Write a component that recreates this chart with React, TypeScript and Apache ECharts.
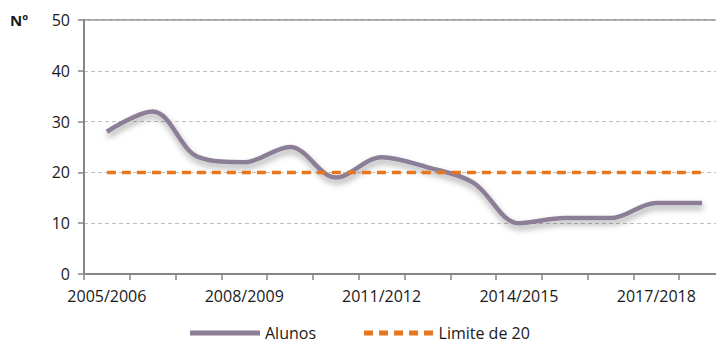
import React, { useEffect, useRef } from "react";
import * as echarts from "echarts";

const categories = [
  "2005/2006", "2006/2007", "2007/2008", "2008/2009", "2009/2010", "2010/2011", "2011/2012",
  "2012/2013", "2013/2014", "2014/2015", "2015/2016", "2016/2017", "2017/2018", "2018/2019",
];
const alunos = [28, 32, 23, 22, 25, 19, 23, 21, 18, 10, 11, 11, 14, 14];
const limite = [20, 20, 20, 20, 20, 20, 20, 20, 20, 20, 20, 20, 20, 20];
const yTicks = { min: 0, max: 50, interval: 10 };

const FONT = "'Open Sans', 'Liberation Sans', sans-serif";

const solidIcon = "path://M0,0h70v5h-70z";
const dashedIcon = "path://M0,0h9v5h-9z M15,0h9v5h-9z M30,0h9v5h-9z M45,0h9v5h-9z M60,0h9v5h-9z";

export default function App() {
  const ref = useRef<HTMLDivElement>(null);
  useEffect(() => {
    if (!ref.current) return;
    const chart = echarts.init(ref.current, undefined, { renderer: "svg" });
    chart.setOption({
      animation: false,
      backgroundColor: "#ffffff",
      textStyle: { fontFamily: FONT },
      grid: {
        left: 84,
        top: 20,
        right: -9,
        bottom: 70,
        outerBoundsMode: "none",
        containLabel: false,
        show: true,
        borderColor: "#868686",
        borderWidth: 1.5,
        backgroundColor: "transparent",
      },
      graphic: [
        {
          type: "text",
          left: 10,
          top: 12,
          style: { text: "Nº", font: `bold 15px ${FONT}`, fill: "#1a1a1a" },
        },
      ],
      legend: {
        left: 185,
        bottom: -2,
        itemWidth: 70,
        itemHeight: 5,
        itemGap: 48,
        textStyle: { fontFamily: FONT, fontSize: 16, color: "#1a1a1a" },
        data: [
          { name: "Alunos", icon: solidIcon, itemStyle: { color: "#8C7E96" } },
          { name: "Limite de 20", icon: dashedIcon, itemStyle: { color: "#E8761E" } },
        ],
      },
      xAxis: {
        type: "category",
        data: categories,
        boundaryGap: true,
        axisLine: { lineStyle: { color: "#868686", width: 2 } },
        axisTick: { show: true, interval: 0, length: 6, lineStyle: { color: "#868686", width: 1.5 } },
        axisLabel: { interval: 2, fontSize: 16, color: "#1a1a1a", fontFamily: FONT, margin: 14 },
        splitLine: { show: false },
      },
      yAxis: {
        type: "value",
        min: yTicks.min,
        max: yTicks.max,
        interval: yTicks.interval,
        axisLine: { show: true, lineStyle: { color: "#868686", width: 2 } },
        axisTick: { show: true, length: 6, lineStyle: { color: "#868686", width: 1.5 } },
        axisLabel: { fontSize: 16, color: "#1a1a1a", fontFamily: FONT, margin: 14 },
        splitLine: { show: true, lineStyle: { color: "#BFBFBF", type: [4, 3], width: 1 } },
      },
      series: [
        {
          name: "Alunos",
          type: "line",
          data: alunos,
          smooth: 0.35,
          symbol: "none",
          lineStyle: {
            color: "#8C7E96",
            width: 4.5,
            shadowColor: "rgba(0,0,0,0.35)",
            shadowBlur: 6,
            shadowOffsetY: 4,
            shadowOffsetX: 1,
          },
          itemStyle: { color: "#8C7E96" },
        },
        {
          name: "Limite de 20",
          type: "line",
          data: limite,
          symbol: "none",
          lineStyle: { color: "#E8761E", width: 3.5, type: [9, 6] },
          itemStyle: { color: "#E8761E" },
        },
      ],
    });
    return () => chart.dispose();
  }, []);
  return (
    <div
      ref={ref}
      style={{ position: "fixed", left: 0, top: 0, width: 716, height: 344 }}
    />
  );
}
